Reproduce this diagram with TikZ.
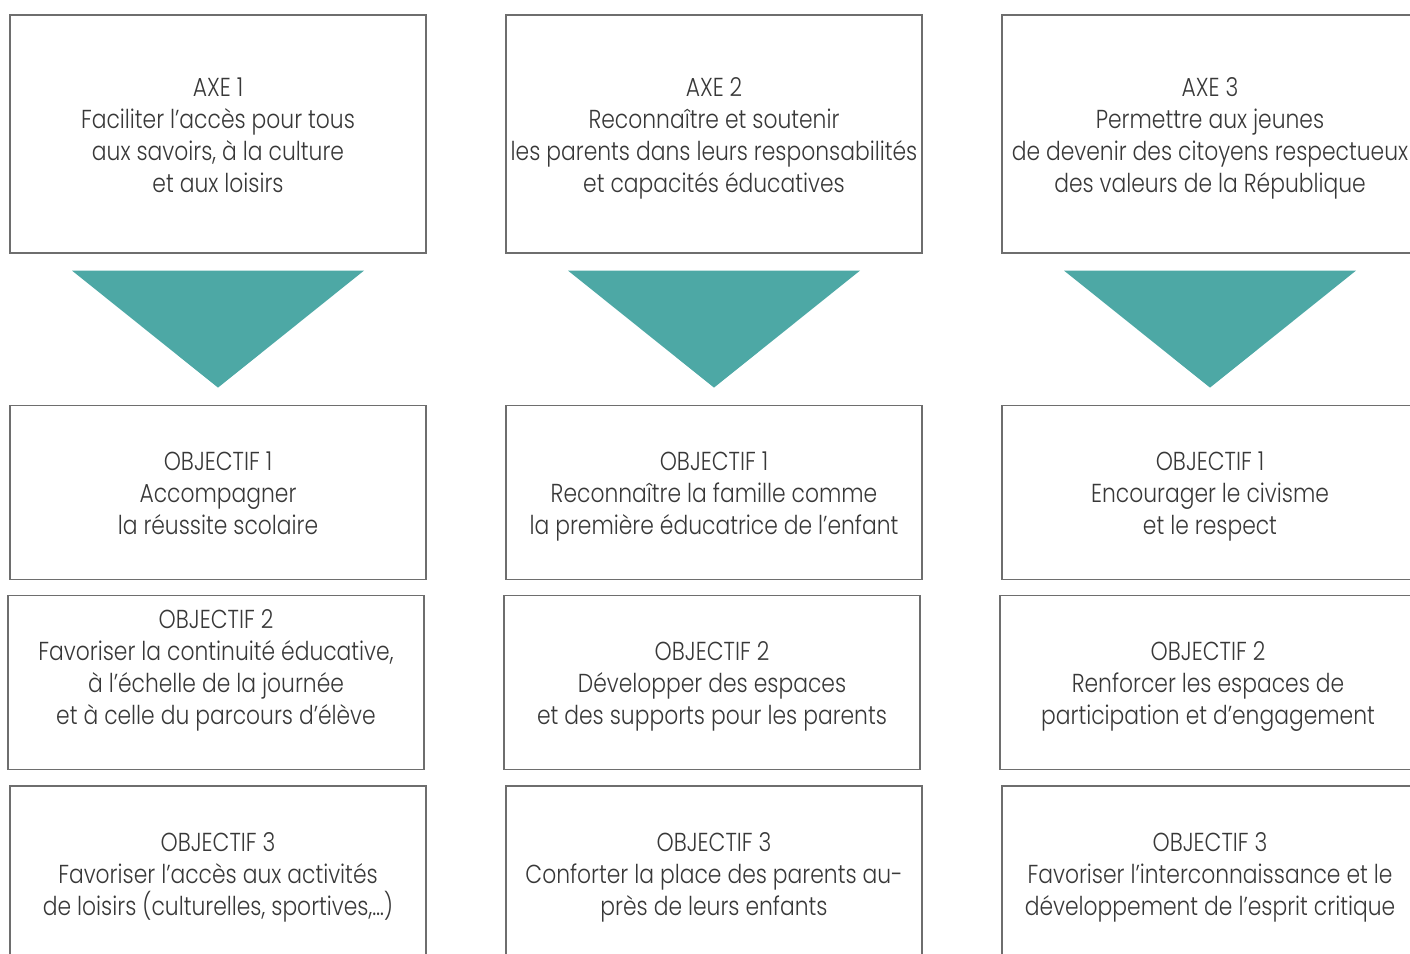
\documentclass[tikz,border=0pt]{standalone}
\usepackage{fontspec}
\setmainfont{Poppins}[UprightFont=* Light, FakeStretch=0.84]
\usepackage{tikz}
\usetikzlibrary{positioning}
\usetikzlibrary{calc}
\definecolor{axeteal}{HTML}{4DA8A5}
\definecolor{boxgray}{HTML}{6E6E6E}
\definecolor{textgray}{HTML}{383838}
\tikzset{
node distance = 7.6pt and 4pt,
   box/.style = {%
    shape=rectangle,
    draw=boxgray,
    line width=0.6pt,
    minimum width=208pt,
    inner xsep=2pt,
    align=center,
    text=textgray,
    text depth=0pt,
    font=\fontsize{13}{16}\selectfont},
 axebox/.style = {box, minimum height=119pt, text height=58pt},
 objbox/.style = {box, minimum height=87pt, text height=42pt},
 arrowtri/.style = {fill=axeteal},
    }

\begin{document}
\begin{tikzpicture}[x=0.5pt, y=-0.5pt]
    \path[use as bounding box, clip] (0,0) rectangle (1410,954);
    % axes
    \node[axebox] (axe-1) at (218,134) {AXE 1\\Faciliter l’accès pour tous\\aux savoirs, à la culture\\et aux loisirs};
    \node[axebox] (axe-2) at (714,134) {AXE 2\\Reconnaître et soutenir\\les parents dans leurs responsabilités\\et capacités éducatives};
    \node[axebox] (axe-3) at (1210,134) {AXE 3\\Permettre aux jeunes\\de devenir des citoyens respectueux\\des valeurs de la République};
    \foreach \i in {1,2,3}
        \fill[arrowtri] ($(axe-\i.south)+(-146,17)$) -- ($(axe-\i.south)+(146,17)$) -- ($(axe-\i.south)+(0,134)$) -- cycle;
    % objectifs
    \node[objbox, below=75.5pt of axe-1] (obj-1-1) {OBJECTIF 1\\Accompagner\\la réussite scolaire};
    \node[objbox, below=of obj-1-1, xshift=-1pt] (obj-1-2) {OBJECTIF 2\\Favoriser la continuité éducative,\\à l’échelle de la journée\\et à celle du parcours d’élève};
    \node[objbox, below=of obj-1-2, xshift=1pt] (obj-1-3) {OBJECTIF 3\\Favoriser l’accès aux activités\\de loisirs (culturelles, sportives,…)};
    \node[objbox, below=75.5pt of axe-2] (obj-2-1) {OBJECTIF 1\\Reconnaître la famille comme\\la première éducatrice de l’enfant};
    \node[objbox, below=of obj-2-1, xshift=-1pt] (obj-2-2) {OBJECTIF 2\\Développer des espaces\\et des supports pour les parents};
    \node[objbox, below=of obj-2-2, xshift=1pt] (obj-2-3) {OBJECTIF 3\\Conforter la place des parents au-\\près de leurs enfants};
    \node[objbox, below=75.5pt of axe-3] (obj-3-1) {OBJECTIF 1\\Encourager le civisme\\et le respect};
    \node[objbox, below=of obj-3-1, xshift=-1pt] (obj-3-2) {OBJECTIF 2\\Renforcer les espaces de\\participation et d’engagement};
    \node[objbox, below=of obj-3-2, xshift=1pt] (obj-3-3) {OBJECTIF 3\\Favoriser l’interconnaissance et le\\développement de l’esprit critique};
\end{tikzpicture}
\end{document}
